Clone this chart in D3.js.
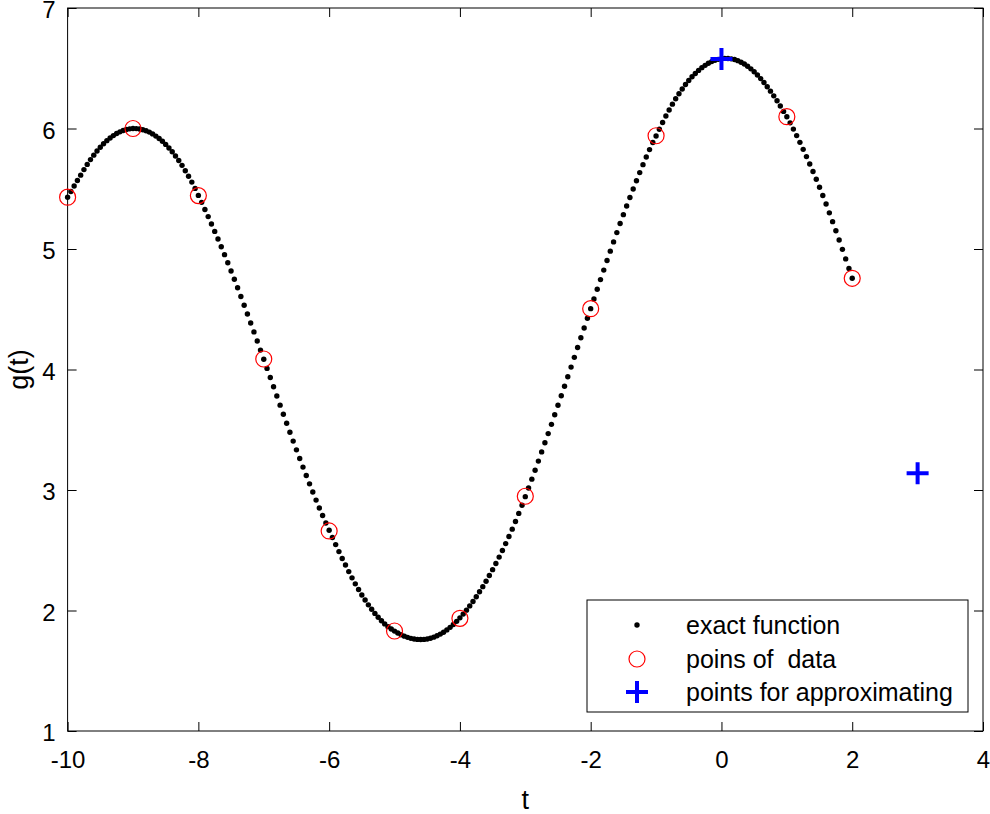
<!DOCTYPE html>
<html><head><meta charset="utf-8">
<script src="https://cdn.jsdelivr.net/npm/d3@7"></script>
<style>body{margin:0;background:#fff}svg{display:block}text{font-family:"Liberation Sans",Arial,Helvetica,sans-serif}</style>
</head><body>
<svg id="chart" width="990" height="814"></svg>
<script>
// exact function, sampled every 0.05 from t = -10 to t = 2
const exactStart = -10, exactStep = 0.05;
const exactValues = [
5.430,5.477,5.523,5.569,5.613,5.659,5.702,5.742,5.779,5.813,
5.845,5.873,5.899,5.921,5.941,5.958,5.972,5.983,5.992,5.997,
6.000,5.999,5.996,5.990,5.981,5.970,5.955,5.937,5.917,5.894,
5.868,5.838,5.807,5.772,5.734,5.694,5.650,5.604,5.555,5.503,
5.445,5.387,5.328,5.269,5.208,5.146,5.083,5.019,4.953,4.886,
4.818,4.749,4.678,4.606,4.533,4.460,4.386,4.312,4.236,4.161,
4.085,4.009,3.933,3.857,3.780,3.704,3.629,3.554,3.479,3.406,
3.333,3.261,3.190,3.120,3.051,2.983,2.916,2.851,2.788,2.726,
2.666,2.606,2.547,2.489,2.432,2.377,2.323,2.271,2.221,2.174,
2.129,2.087,2.047,2.010,1.976,1.944,1.915,1.889,1.866,1.846,
1.829,1.813,1.799,1.787,1.777,1.769,1.763,1.760,1.759,1.760,
1.764,1.770,1.779,1.790,1.804,1.820,1.839,1.860,1.884,1.910,
1.939,1.970,2.003,2.038,2.075,2.114,2.155,2.198,2.243,2.290,
2.339,2.390,2.443,2.498,2.555,2.614,2.675,2.738,2.806,2.874,
2.945,3.017,3.090,3.164,3.240,3.316,3.392,3.468,3.545,3.624,
3.703,3.782,3.861,3.940,4.020,4.101,4.182,4.263,4.344,4.425,
4.505,4.586,4.666,4.746,4.825,4.904,4.982,5.059,5.136,5.211,
5.285,5.357,5.428,5.498,5.567,5.634,5.700,5.764,5.825,5.884,
5.938,5.994,6.050,6.104,6.154,6.202,6.247,6.289,6.328,6.365,
6.398,6.429,6.457,6.482,6.505,6.524,6.541,6.555,6.566,6.574,
6.579,6.582,6.581,6.578,6.572,6.563,6.550,6.535,6.517,6.495,
6.471,6.444,6.414,6.382,6.347,6.310,6.271,6.230,6.187,6.142,
6.097,6.047,5.995,5.941,5.885,5.827,5.767,5.706,5.643,5.579,
5.513,5.444,5.373,5.300,5.227,5.152,5.075,4.997,4.918,4.838,
4.757
];
// data points (red circles)
const dataT = [-10,-9,-8,-7,-6,-5,-4,-3,-2,-1,1,2];
const dataG = [5.430,6.000,5.443,4.087,2.660,1.830,1.935,2.948,4.505,5.940,6.098,4.757];
// points for approximating (blue plus)
const approxT = [0,3];
const approxG = [6.577,3.140];
const xTicks = [-10,-8,-6,-4,-2,0,2,4];
const yTicks = [1,2,3,4,5,6,7];
const legendLabels = ["exact function","poins of  data","points for approximating"];

const svg = d3.select("#chart");
const L = 67.6, R = 983, T = 8, B = 731;
const x = d3.scaleLinear().domain([-10,4]).range([L,R]);
const y = d3.scaleLinear().domain([1,7]).range([B,T]);
const tick = 9, fs = 24;
const fmt = d => String(d);

function styleAxis(g, showLabels){
  g.selectAll(".domain").remove();
  g.selectAll(".tick line").attr("stroke","#000").attr("stroke-width",1);
  g.selectAll(".tick text").attr("fill","#000").style("font-size",fs+"px");
  if(!showLabels) g.selectAll(".tick text").remove();
}
svg.append("g").attr("transform",`translate(0,${B})`)
  .call(d3.axisBottom(x).tickValues(xTicks).tickFormat(fmt).tickSizeInner(-tick).tickSizeOuter(0).tickPadding(20))
  .call(g=>styleAxis(g,true));
svg.append("g").attr("transform",`translate(0,${T})`)
  .call(d3.axisTop(x).tickValues(xTicks).tickSizeInner(-tick).tickSizeOuter(0))
  .call(g=>styleAxis(g,false));
svg.append("g").attr("transform",`translate(${L},0)`)
  .call(d3.axisLeft(y).tickValues(yTicks).tickFormat(fmt).tickSizeInner(-tick).tickSizeOuter(0).tickPadding(12))
  .call(g=>styleAxis(g,true))
  .call(g=>g.selectAll(".tick text").attr("dy","0.40em"));
svg.append("g").attr("transform",`translate(${R},0)`)
  .call(d3.axisRight(y).tickValues(yTicks).tickSizeInner(-tick).tickSizeOuter(0))
  .call(g=>styleAxis(g,false));

svg.append("rect").attr("x",L).attr("y",T).attr("width",R-L).attr("height",B-T)
  .attr("fill","none").attr("stroke","#000").attr("stroke-width",1);

// axis titles
svg.append("text").attr("x",(L+R)/2).attr("y",809).attr("text-anchor","middle")
  .style("font-size","27px").text("t");
svg.append("text").attr("transform",`translate(28,${(T+B)/2}) rotate(-90)`).attr("text-anchor","middle")
  .style("font-size","27px").text("g(t)");

// exact function dots
svg.append("g").selectAll("circle").data(exactValues).join("circle")
  .attr("cx",(d,i)=>x(exactStart+i*exactStep)).attr("cy",d=>y(d)).attr("r",2.7).attr("fill","#000");

// data circles
svg.append("g").selectAll("circle").data(dataT).join("circle")
  .attr("cx",d=>x(d)).attr("cy",(d,i)=>y(dataG[i])).attr("r",8)
  .attr("fill","none").attr("stroke","#ff0000").attr("stroke-width",1.2);

// plus markers
function plus(sel, cx, cy){
  const h = 11;
  sel.append("path").attr("d",`M${cx-h},${cy}H${cx+h}M${cx},${cy-h}V${cy+h}`)
    .attr("stroke","#0000ff").attr("stroke-width",4).attr("fill","none");
}
const pg = svg.append("g");
approxT.forEach((t,i)=>plus(pg, x(t), y(approxG[i])));

// legend
const lg = svg.append("g");
lg.append("rect").attr("x",587).attr("y",600).attr("width",381).attr("height",112)
  .attr("fill","#fff").attr("stroke","#000").attr("stroke-width",1);
const rows = [625,659,692];
lg.append("circle").attr("cx",637).attr("cy",rows[0]).attr("r",2.7).attr("fill","#000");
lg.append("circle").attr("cx",637).attr("cy",rows[1]).attr("r",8).attr("fill","none").attr("stroke","#ff0000").attr("stroke-width",1.2);
plus(lg, 637, rows[2]);
legendLabels.forEach((s,i)=>{
  lg.append("text").attr("x",686).attr("y",rows[i]).attr("dy","0.35em")
    .style("font-size","25px").style("white-space","pre").attr("xml:space","preserve").text(s);
});
</script>
</body></html>
